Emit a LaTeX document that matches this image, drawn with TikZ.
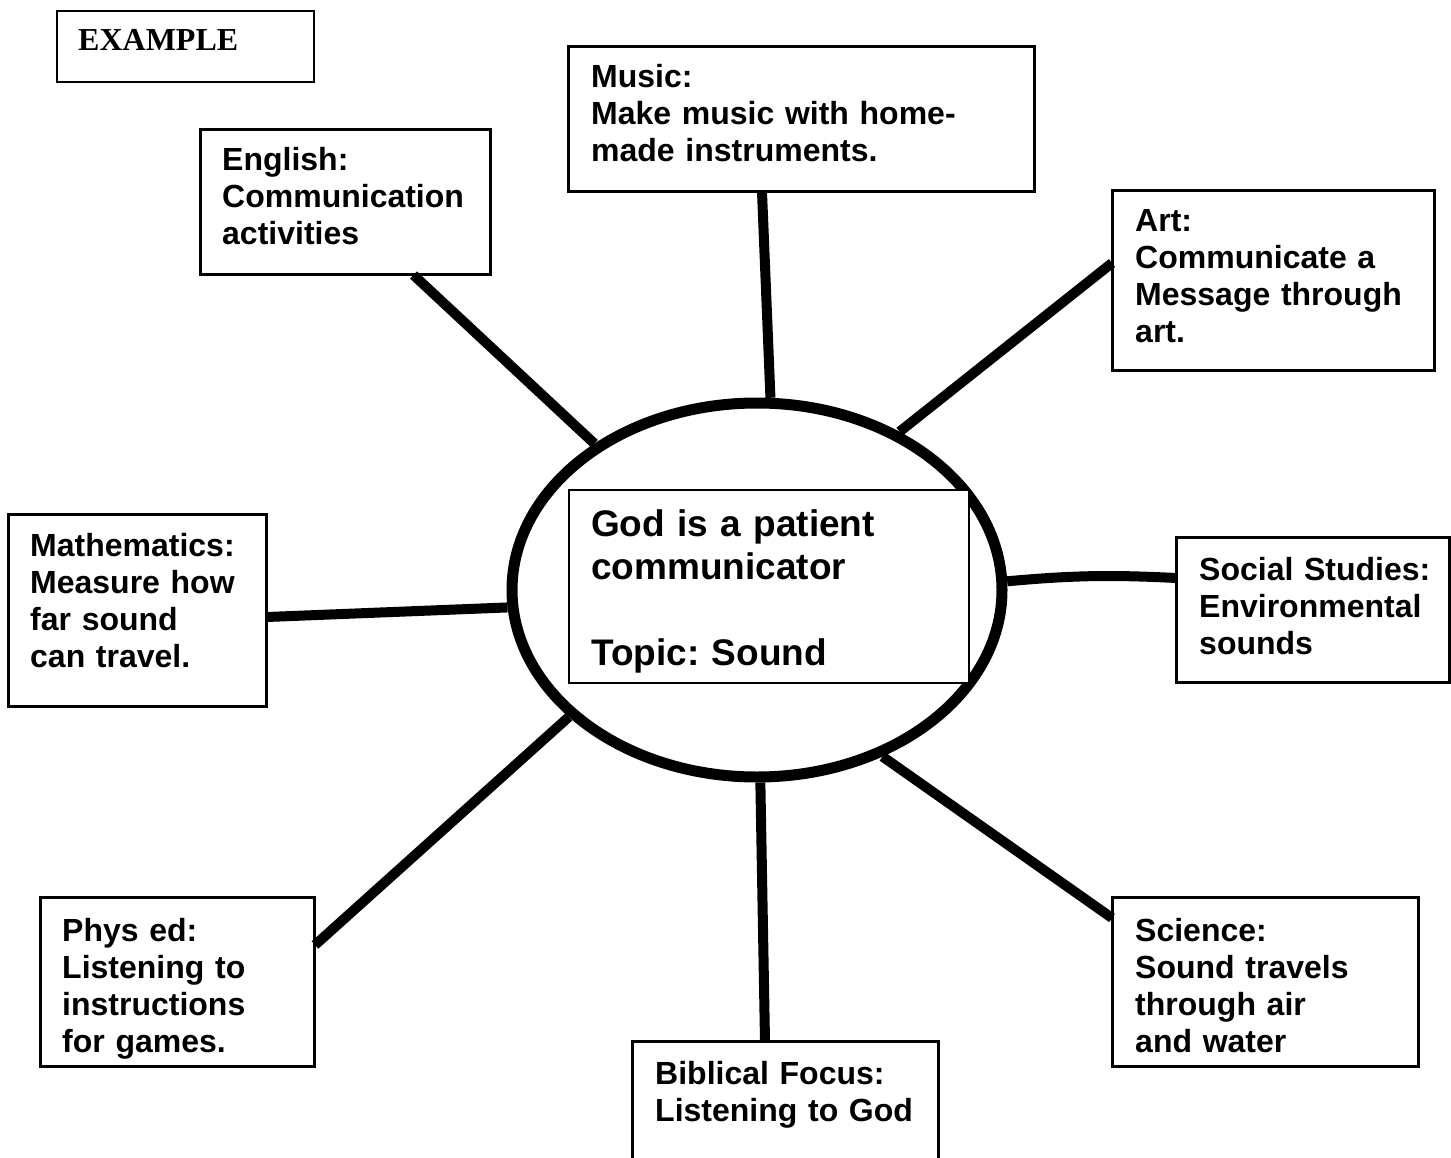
\documentclass[tikz,border=0pt]{standalone}
\usepackage{fontspec}
\setmainfont{Liberation Sans}
\newfontfamily\timesfont{Liberation Serif}
\usetikzlibrary{shapes.geometric}
\frenchspacing
\begin{document}
\begin{tikzpicture}[x=1pt,y=-1pt,
  box/.style={draw, line width=2pt, fill=white, inner sep=0pt, rectangle},
  lbl/.style={anchor=base west, inner sep=0pt, text width=440pt, align=left, font=\fontsize{32}{37}\selectfont\bfseries},
  spoke/.style={line width=10pt}]
\useasboundingbox (0,0) rectangle (1451,1158);
\fill[white] (0,0) rectangle (1451,1158);

% central ellipse
\node[ellipse, draw, line width=11pt, minimum width=490pt, minimum height=374pt, inner sep=0pt] (ell) at (757,590) {};

% boxes
\node[box, minimum width=257pt, minimum height=71pt] (exB) at (185.5,46.5) {};
\node[box, minimum width=289pt, minimum height=144pt] (engB) at (345.5,202) {};
\node[box, minimum width=465pt, minimum height=144pt] (musB) at (801.5,119) {};
\node[box, minimum width=321pt, minimum height=179pt] (artB) at (1273.5,280.5) {};
\node[box, minimum width=257pt, minimum height=191pt] (mathB) at (137.5,610.5) {};
\node[box, minimum width=272pt, minimum height=144pt] (socB) at (1313,610) {};
\node[box, minimum width=273pt, minimum height=168pt] (physB) at (177.5,982) {};
\node[box, minimum width=305pt, minimum height=140pt] (bibB) at (785.5,1112) {};
\node[box, minimum width=305pt, minimum height=168pt] (sciB) at (1265.5,982) {};

% spokes
\draw[spoke] ([xshift=68pt]engB.south) -- (ell.138);
\draw[spoke] ([xshift=-39.5pt]musB.south) -- (ell.86);
\draw[spoke] ([yshift=17.5pt]artB.west) -- (ell.48);
\draw[spoke] ([yshift=-6.5pt]mathB.east) -- (ell.184);
\draw[spoke] (ell.2) to[bend left=4] ([yshift=32pt]socB.west);
\draw[spoke] ([yshift=37pt]physB.east) -- (ell.214);
\draw[spoke] ([xshift=-20.5pt]bibB.north) -- (ell.271);
\draw[spoke] ([yshift=64pt]sciB.west) -- (ell.307);

% redraw box borders on top of spoke ends
\foreach \b in {engB,musB,artB,mathB,socB,physB,bibB,sciB}{
  \draw[line width=2pt] (\b.north west) rectangle (\b.south east);
}

% centre box
\node[box, minimum width=400pt, minimum height=193pt] (ctrB) at (769,586.5) {};

% texts
\node[lbl, font=\fontsize{32}{37}\selectfont\timesfont\bfseries] (exT) at (78,51) {EXAMPLE};
\node[lbl] (engT) at (222,171) {English:\\Communication\\activities};
\node[lbl] (musT) at (591,88) {Music:\\Make music with home-\\made instruments.};
\node[lbl] (artT) at (1135,232) {Art:\\Communicate a\\Message through\\art.};
\node[lbl] (mathT) at (30,556) {Mathematics:\\Measure how\\far sound\\can travel.};
\node[lbl, font=\fontsize{37}{43}\selectfont\bfseries] (ctrT) at (591,536) {God is a patient\\communicator\\[43pt]Topic: Sound};
\node[lbl] (socT) at (1199,580) {Social Studies:\\Environmental\\sounds};
\node[lbl] (physT) at (62,941) {Phys ed:\\Listening to\\instructions\\for games.};
\node[lbl] (bibT) at (655,1084) {Biblical Focus:\\Listening to God};
\node[lbl] (sciT) at (1135,941) {Science:\\Sound travels\\through air\\and water};
\end{tikzpicture}
\end{document}
